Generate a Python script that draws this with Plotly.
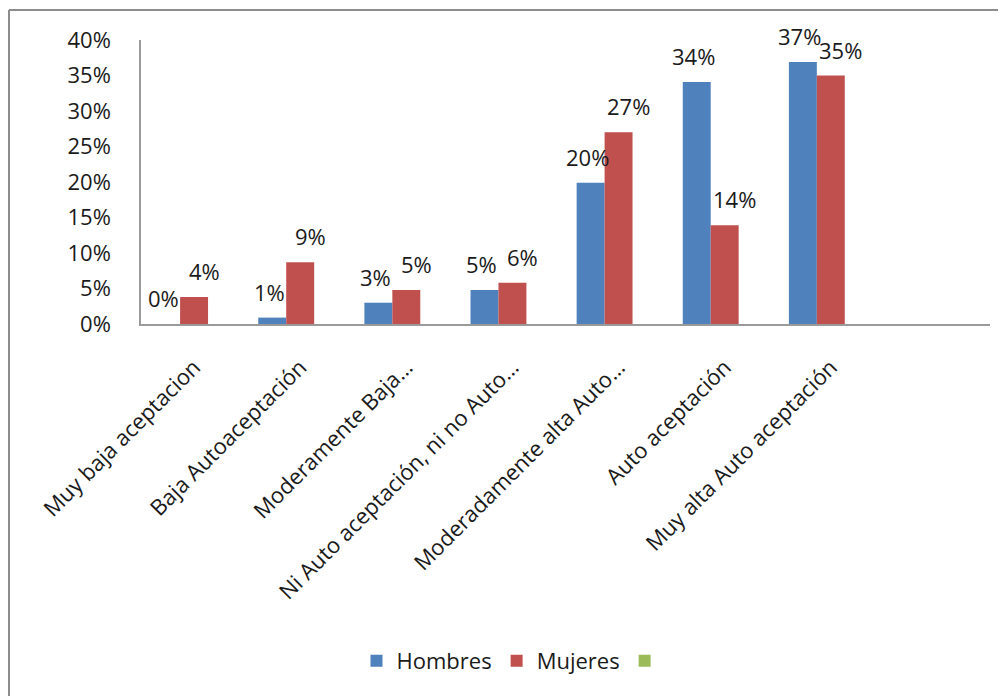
import plotly.graph_objects as go

categories = [
    "Muy baja aceptacion",
    "Baja Autoaceptación",
    "Moderamente Baja…",
    "Ni Auto aceptación, ni no Auto…",
    "Moderadamente alta Auto…",
    "Auto aceptación",
    "Muy alta Auto aceptación",
    " ",
]
hombres = [0.0, 0.009, 0.030, 0.048, 0.199, 0.341, 0.369, None]
mujeres = [0.038, 0.087, 0.048, 0.058, 0.270, 0.139, 0.350, None]
tercera = [None] * 8

series_names = ["Hombres", "Mujeres", " "]
colors = ["#4F81BD", "#C0504D", "#9BBB59"]
y_ticks = [0, 0.05, 0.10, 0.15, 0.20, 0.25, 0.30, 0.35, 0.40]

FONT = "'Open Sans', 'Noto Sans', sans-serif"
TXT = "#1a1a1a"
FS = 22

# page has an 8px body margin; figure coordinates are offset accordingly
OFF = 8
W, H = 1006 - OFF, 696 - OFF
PL, PR, PT, PB = 141 - OFF, 990 - OFF, 40 - OFF, 324 - OFF
PW, PH = PR - PL, PB - PT

fig = go.Figure()
for name, vals, col in zip(series_names, [hombres, mujeres, tercera], colors):
    fig.add_trace(go.Bar(x=categories, y=vals, name=name, marker=dict(color=col, line=dict(width=0))))

annotations = []
for vals, xs in [(hombres, -31), (mujeres, 10)]:
    for c, v in zip(categories, vals):
        if v is None:
            continue
        annotations.append(dict(
            x=c, y=v, xref="x", yref="y", text=f"{v:.0%}", showarrow=False,
            xshift=xs, yshift=26, yanchor="middle", xanchor="center",
            font=dict(family=FONT, size=FS, color=TXT),
        ))

bx = (9 - OFF - PL) / PW
by = (PB - (10 - OFF)) / PH

fig.update_layout(
    width=W, height=H,
    margin=dict(l=PL, r=W - PR, t=PT, b=H - PB),
    paper_bgcolor="white", plot_bgcolor="white",
    barmode="group", bargap=0.21, bargroupgap=0,
    font=dict(family=FONT, size=FS, color=TXT),
    showlegend=True,
    legend=dict(orientation="h", x=(516 - 141) / 849, y=(PB - (661 - OFF)) / PH,
                xanchor="center", yanchor="middle",
                font=dict(family=FONT, size=FS, color=TXT), itemwidth=30,
                traceorder="normal"),
    annotations=annotations,
    shapes=[
        dict(type="line", xref="paper", yref="paper",
             x0=bx, x1=1.05, y0=by, y1=by,
             line=dict(color="#8c8c8c", width=2)),
        dict(type="line", xref="paper", yref="paper",
             x0=bx, x1=bx, y0=by, y1=-1.4,
             line=dict(color="#8c8c8c", width=2)),
    ],
)
fig.update_xaxes(
    type="category", categoryorder="array", categoryarray=categories,
    showline=True, linecolor="#9a9a9a", linewidth=1.5, showgrid=False,
    ticks="", tickangle=-45, tickfont=dict(family=FONT, size=FS, color=TXT),
    ticklabelstandoff=20,
)
fig.update_yaxes(
    range=[0, 0.40], tickvals=y_ticks, tickformat=".0%",
    showline=True, linecolor="#9a9a9a", linewidth=1.5, showgrid=False, zeroline=False,
    ticks="", tickfont=dict(family=FONT, size=FS, color=TXT), ticklabelstandoff=24,
)
fig.write_html("out.html")
